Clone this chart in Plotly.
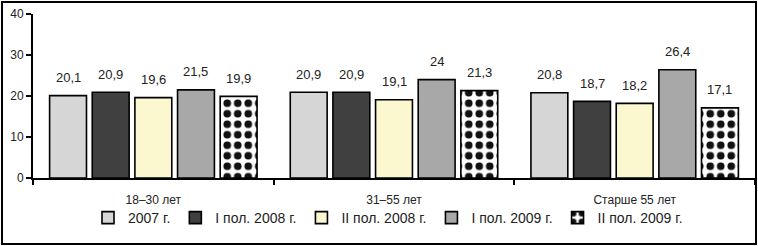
import plotly.graph_objects as go

categories = ["18–30 лет", "31–55 лет", "Старше 55 лет"]
series_names = ["2007 г.", "I пол. 2008 г.", "II пол. 2008 г.", "I пол. 2009 г.", "II пол. 2009 г."]
values_2007 = [20.1, 20.9, 20.8]
values_2008_1 = [20.9, 20.9, 18.7]
values_2008_2 = [19.6, 19.1, 18.2]
values_2009_1 = [21.5, 24.0, 26.4]
values_2009_2 = [19.9, 21.3, 17.1]
y_ticks = [0, 10, 20, 30, 40]

all_values = [values_2007, values_2008_1, values_2008_2, values_2009_1, values_2009_2]
colors = ["#d6d6d6", "#404040", "#fbf8d0", "#a8a8a8", "#ffffff"]

W, H = 758, 246
ML, MR, MT, MB = 33, 3, 14, 68
PW = W - ML - MR
PH = H - MT - MB
BARGAP = 0.114
BARGROUPGAP = 0.135

fig = go.Figure()
for i, (name, vals) in enumerate(zip(series_names, all_values)):
    marker = dict(color=colors[i], line=dict(color="#000000", width=1.6))
    if i == 4:
        marker["pattern"] = dict(shape=".", fgcolor="#111111", bgcolor="#ffffff",
                                 size=10.5, solidity=0.42, fillmode="replace")
    fig.add_trace(go.Bar(name=name, x=categories, y=vals, marker=marker, hoverinfo="skip"))

def fmt(v):
    s = ("%.1f" % v).replace(".", ",")
    if s.endswith(",0"):
        s = s[:-2]
    return s

slot = PW / len(categories) * (1 - BARGAP) / len(series_names)
annotations = []
for i, vals in enumerate(all_values):
    for c, v in zip(categories, vals):
        annotations.append(dict(
            x=c, y=v, xref="x", yref="y", text=fmt(v), showarrow=False,
            xshift=(i - 2) * slot, yshift=18,
            font=dict(family="Liberation Sans, Arial, sans-serif", size=13, color="#222222"),
        ))

fig.update_layout(
    width=W, height=H,
    margin=dict(l=ML, r=MR, t=MT, b=MB, pad=0),
    paper_bgcolor="#ffffff", plot_bgcolor="#ffffff",
    barmode="group", bargap=BARGAP, bargroupgap=BARGROUPGAP,
    font=dict(family="Liberation Sans, Arial, sans-serif", size=12, color="#222222"),
    showlegend=True,
    legend=dict(orientation="h", x=0.5 - 6 / PW, xanchor="center", y=-(218 - (MT + PH)) / PH,
                yanchor="middle", font=dict(size=14, color="#222222"),
                bgcolor="rgba(0,0,0,0)", itemwidth=30, tracegroupgap=0),
    annotations=annotations,
    shapes=[dict(type="rect", xref="paper", yref="paper",
                 x0=(2 - ML) / PW, x1=(756 - ML) / PW,
                 y0=-(244 - (MT + PH)) / PH, y1=((MT + PH) - 2) / PH,
                 line=dict(color="#000000", width=2), fillcolor="rgba(0,0,0,0)", layer="above")],
)
fig.update_xaxes(
    showline=True, linecolor="#000000", linewidth=2,
    ticks="outside", tickson="boundaries", ticklen=5, tickcolor="#000000", tickwidth=1.5,
    showgrid=False, tickfont=dict(size=12, color="#222222"), ticklabelstandoff=10,
)
fig.update_yaxes(
    range=[0, 40], tickvals=y_ticks, showline=True, linecolor="#000000", linewidth=2,
    ticks="outside", ticklen=5, tickcolor="#000000", tickwidth=1.5,
    showgrid=False, zeroline=False, tickfont=dict(size=12, color="#222222"),
)

fig.write_html(
    "out.html",
    config={"displayModeBar": False},
    post_script="document.body.style.margin='0';document.body.style.overflow='hidden';",
)
